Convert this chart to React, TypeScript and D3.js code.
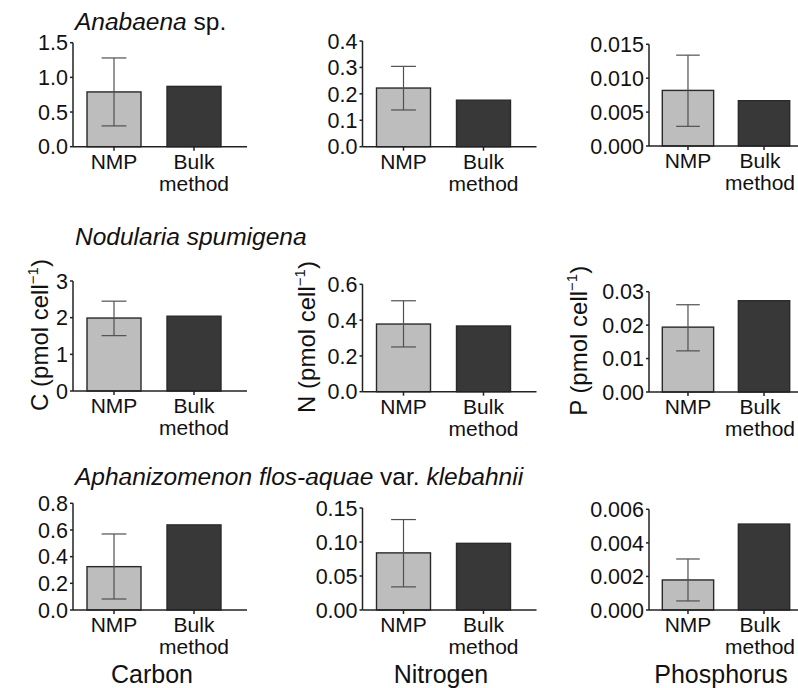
import React from "react";
import * as d3 from "d3";

// ---- data ----
const elements = ["Carbon", "Nitrogen", "Phosphorus"];
const elementSymbols = ["C", "N", "P"];
const methods = ["NMP", "Bulk method"];
const speciesTitles: { text: string; italic: boolean }[][] = [
  [
    { text: "Anabaena", italic: true },
    { text: " sp.", italic: false },
  ],
  [{ text: "Nodularia spumigena", italic: true }],
  [
    { text: "Aphanizomenon flos-aquae", italic: true },
    { text: " var. ", italic: false },
    { text: "klebahnii", italic: true },
  ],
];
// rows = species, cols = element
const nmpMean = [
  [0.79, 0.222, 0.0082],
  [1.99, 0.378, 0.0194],
  [0.325, 0.084, 0.00179],
];
const nmpLow = [
  [0.3, 0.139, 0.0029],
  [1.51, 0.25, 0.0123],
  [0.0825, 0.034, 0.00054],
];
const nmpHigh = [
  [1.28, 0.304, 0.0134],
  [2.45, 0.508, 0.0261],
  [0.57, 0.133, 0.00304],
];
const bulkValue = [
  [0.87, 0.176, 0.00668],
  [2.04, 0.367, 0.0273],
  [0.638, 0.098, 0.00512],
];
const yMax = [
  [1.5, 0.4, 0.015],
  [3, 0.6, 0.03],
  [0.8, 0.15, 0.006],
];
const yStep = [
  [0.5, 0.1, 0.005],
  [1, 0.2, 0.01],
  [0.2, 0.05, 0.002],
];
const yDecimals = [
  [1, 1, 3],
  [0, 1, 2],
  [1, 2, 3],
];

// ---- layout ----
const W = 798;
const H = 688;
const colAxisX = [73, 362.5, 649];
const colWidth = [162, 162, 154];
const panelTop = [
  [42.7, 41, 44.3],
  [281, 284.3, 291.7],
  [503.3, 508, 509.3],
];
const panelBase = [
  [146.7, 146.7, 146],
  [391, 391.7, 392],
  [610, 610, 610],
];
const titleY = [30, 245, 485];
const yLabelX = [48, 315, 587];
const colLabelX = [152, 441, 721];
const FONT = "'Liberation Sans', Arial, Helvetica, sans-serif";
const NMP_FILL = "#bdbdbd";
const BULK_FILL = "#383838";
const AXIS = "#222";

function Panel({ r, c }: { r: number; c: number }) {
  const ax = colAxisX[c];
  const pw = colWidth[c];
  const x = d3
    .scaleBand<string>()
    .domain(methods)
    .range([ax, ax + pw])
    .paddingInner(0.325)
    .paddingOuter(0.175);
  const y = d3
    .scaleLinear()
    .domain([0, yMax[r][c]])
    .range([panelBase[r][c], panelTop[r][c]]);
  const ticks = d3.range(0, yMax[r][c] + yStep[r][c] / 2, yStep[r][c]);
  const fmt = d3.format(`.${yDecimals[r][c]}f`);
  const bw = x.bandwidth();
  const values = [nmpMean[r][c], bulkValue[r][c]];
  const fills = [NMP_FILL, BULK_FILL];
  const cx = (x("NMP") as number) + bw / 2;
  const cap = bw * 0.23;
  return (
    <g>
      {methods.map((m, i) => (
        <rect
          key={m}
          x={x(m)}
          y={y(values[i])}
          width={bw}
          height={y(0) - y(values[i])}
          fill={fills[i]}
          stroke="#2a2a2a"
          strokeWidth={1.4}
        />
      ))}
      {/* error bar */}
      <g stroke="#505050" strokeWidth={1.2}>
        <line x1={cx} x2={cx} y1={y(nmpLow[r][c])} y2={y(nmpHigh[r][c])} />
        <line x1={cx - cap} x2={cx + cap} y1={y(nmpHigh[r][c])} y2={y(nmpHigh[r][c])} />
        <line x1={cx - cap} x2={cx + cap} y1={y(nmpLow[r][c])} y2={y(nmpLow[r][c])} />
      </g>
      {/* y axis */}
      <line x1={ax} x2={ax} y1={y(yMax[r][c])} y2={y(0)} stroke={AXIS} strokeWidth={1.5} />
      {ticks.map((t) => (
        <g key={t}>
          <line x1={ax - 3} x2={ax} y1={y(t)} y2={y(t)} stroke={AXIS} strokeWidth={1.5} />
          <text
            x={ax - 5}
            y={y(t)}
            dy="0.36em"
            textAnchor="end"
            fontSize={21.5}
            fontFamily={FONT}
            fill="#111"
          >
            {fmt(t)}
          </text>
        </g>
      ))}
      {/* x axis */}
      <line x1={ax} x2={ax + pw + 12} y1={y(0)} y2={y(0)} stroke={AXIS} strokeWidth={1.5} />
      {methods.map((m) => {
        const mx = (x(m) as number) + bw / 2;
        const words = m === "NMP" ? ["NMP"] : ["Bulk", "method"];
        const lx = Math.min(mx, W - 38);
        return (
          <g key={m}>
            <line x1={mx} x2={mx} y1={y(0)} y2={y(0) + 4} stroke={AXIS} strokeWidth={1.5} />
            {words.map((w, k) => (
              <text
                key={w}
                x={lx}
                y={y(0) + 22 + k * 22}
                textAnchor="middle"
                fontSize={21}
                fontFamily={FONT}
                fill="#111"
              >
                {w}
              </text>
            ))}
          </g>
        );
      })}
    </g>
  );
}

export default function App() {
  return (
    <svg width={W} height={H} style={{ display: "block", position: "absolute", left: 0, top: 0 }}>
      <rect width={W} height={H} fill="#fff" />
      {speciesTitles.map((parts, r) => (
        <text key={r} x={75} y={titleY[r]} fontSize={24.5} fontFamily={FONT} fill="#111">
          {parts.map((p, k) => (
            <tspan key={k} fontStyle={p.italic ? "italic" : "normal"}>
              {p.text}
            </tspan>
          ))}
        </text>
      ))}
      {[0, 1, 2].map((r) => [0, 1, 2].map((c) => <Panel key={`${r}-${c}`} r={r} c={c} />))}
      {elementSymbols.map((s, c) => {
        const cy = (panelTop[1][c] + panelBase[1][c]) / 2 - 1;
        return (
          <text
            key={s}
            transform={`translate(${yLabelX[c]},${cy}) rotate(-90)`}
            textAnchor="middle"
            fontSize={24}
            fontFamily={FONT}
            fill="#111"
          >
            {`${s} (pmol cell`}
            <tspan fontSize={15} dy={-10}>
              −1
            </tspan>
            <tspan dy={10}>)</tspan>
          </text>
        );
      })}
      {elements.map((e, c) => (
        <text
          key={e}
          x={colLabelX[c]}
          y={683}
          textAnchor="middle"
          fontSize={25}
          fontFamily={FONT}
          fill="#111"
        >
          {e}
        </text>
      ))}
    </svg>
  );
}
